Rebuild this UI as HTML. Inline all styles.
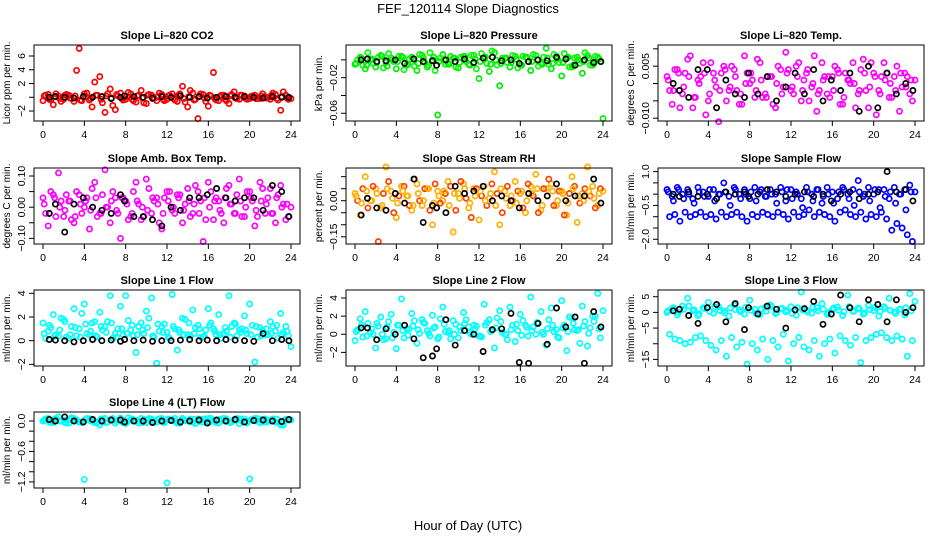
<!DOCTYPE html>
<html><head><meta charset="utf-8"><style>
html,body{margin:0;padding:0;background:#fff;}
svg{display:block;font-family:"Liberation Sans",sans-serif;}
</style></head><body>
<svg id="chart" width="936" height="540" viewBox="0 0 936 540" xmlns="http://www.w3.org/2000/svg">
<rect x="0" y="0" width="936" height="540" fill="#fff"/>
<text x="468" y="13" text-anchor="middle" font-size="13">FEF_120114  Slope Diagnostics</text>
<text x="468" y="530" text-anchor="middle" font-size="13">Hour of Day (UTC)</text>
</svg>
<script>
const hoursA=[0,0.5,1,1.5,2,2.5,3,3.5,4,4.5,5,5.5,6,6.5,7,7.5,8,8.5,9,9.5,10,10.5,11,11.5,12,12.5,13,13.5,14,14.5,15,15.5,16,16.5,17,17.5,18,18.5,19,19.5,20,20.5,21,21.5,22,22.5,23,23.5,24];
const hoursB=[0.25,0.75,1.25,1.75,2.25,2.75,3.25,3.75,4.25,4.75,5.25,5.75,6.25,6.75,7.25,7.75,8.25,8.75,9.25,9.75,10.25,10.75,11.25,11.75,12.25,12.75,13.25,13.75,14.25,14.75,15.25,15.75,16.25,16.75,17.25,17.75,18.25,18.75,19.25,19.75,20.25,20.75,21.25,21.75,22.25,22.75,23.25,23.75];
const hoursC=[0.12,0.62,1.12,1.62,2.12,2.62,3.12,3.62,4.12,4.62,5.12,5.62,6.12,6.62,7.12,7.62,8.12,8.62,9.12,9.62,10.12,10.62,11.12,11.62,12.12,12.62,13.12,13.62,14.12,14.62,15.12,15.62,16.12,16.62,17.12,17.62,18.12,18.62,19.12,19.62,20.12,20.62,21.12,21.62,22.12,22.62,23.12,23.62];
const blackHours=[0.6,1.2,2.1,3.0,3.9,4.8,5.7,6.6,7.5,7.9,8.8,9.7,10.6,11.5,12.4,13.3,14.2,15.1,15.9,16.8,17.7,18.6,19.5,20.4,21.3,22.2,23.1,23.8];
const xTicks=[0,4,8,12,16,20,24];

const co2A=[-0.5,0.4,-1.1,0.2,-0.3,0.3,-0.6,7.1,0.5,-0.4,2.2,3.0,-2.2,1.2,-1.8,0.6,-0.3,0.5,-0.7,1.0,-0.9,0.3,-0.5,0.4,-0.3,0.5,-0.6,1.6,-1.4,0.6,-3.1,0.4,-1.3,3.6,-0.5,0.3,-0.9,0.8,-0.3,0.2,-0.2,0.3,-0.2,0.1,-0.3,0.4,-1.9,0.3,-0.2];
const co2B=[0.3,-0.4,0.5,-0.6,0.4,-0.2,3.9,-0.5,0.6,-1.4,0.3,-0.8,0.5,-1.2,0.2,-0.4,0.7,-0.5,0.3,-0.8,0.4,-0.2,0.6,-0.5,0.3,-0.4,0.5,-0.7,1.0,-0.3,0.5,-0.6,0.2,-0.4,0.3,-0.5,0.4,-0.2,0.3,-0.3,0.2,-0.2,0.5,-0.1,0.6,-0.4,0.8,-0.3];
const co2C=[0.2,-0.3,0.1,-0.2,0.3,-0.1,0.2,-0.4,0.1,-0.2,0.3,-0.3,0.2,-0.1,0.4,-0.2,0.1,-0.3,0.2,-0.1,0.3,-0.2,0.1,-0.3,0.2,-0.1,0.3,-0.2,0.1,-0.4,0.2,-0.1,0.3,-0.2,0.1,-0.3,0.2,-0.1,0.3,-0.2,0.1,-0.2,0.2,-0.1,0.3,-0.2,0.1,-0.1];
const co2K=[0,0.1,0,-0.1,0.1,0,0.1,-0.2,0,0.2,0.1,0,-0.1,0.1,0,0.2,0,0.1,-0.1,0,0.1,0,0.1,0,-0.1,0.1,0,0];

const presA=[-0.005,0.003,-0.01,0.0,-0.008,0.005,-0.003,0.002,-0.01,0.004,-0.006,0.003,-0.012,0.005,-0.008,0.0,-0.062,0.006,-0.004,0.002,-0.009,0.004,-0.005,0.005,-0.021,0.003,-0.013,0.008,-0.029,0.002,-0.008,0.004,-0.006,0.003,-0.012,0.005,-0.004,0.013,-0.01,0.004,-0.018,0.002,-0.008,0.003,-0.015,0.005,-0.006,0.003,-0.066];
const presB=[0.0,-0.006,0.008,-0.004,0.003,-0.009,0.007,-0.002,0.004,-0.011,0.001,-0.007,0.006,-0.003,0.008,-0.012,0.002,-0.005,0.004,-0.008,0.003,-0.002,0.005,-0.01,0.007,-0.004,0.01,-0.006,0.002,-0.003,0.005,-0.009,0.004,-0.002,0.006,-0.007,0.003,-0.005,0.006,-0.003,0.007,-0.008,0.002,-0.004,0.008,-0.006,0.004,-0.002];
const presC=[-0.004,0.002,-0.006,0.001,-0.003,0.004,-0.007,0.0,-0.002,0.003,-0.005,0.001,-0.004,0.002,-0.006,0.003,-0.002,0.0,-0.005,0.002,-0.003,0.004,-0.006,0.001,-0.002,0.003,-0.005,0.0,-0.004,0.002,-0.003,0.001,-0.006,0.003,-0.002,0.0,-0.005,0.002,-0.004,0.001,-0.003,0.003,-0.006,0.0,-0.002,0.002,-0.004,0.001];
const presK=[0.0,0.001,-0.002,-0.001,0.0,-0.004,0.001,-0.002,-0.001,-0.006,0.0,-0.002,0.001,-0.003,0.002,0.003,-0.001,0.0,-0.004,-0.002,0.0,-0.001,0.003,0.001,-0.006,0.0,-0.003,-0.002];

const tempA=[0.002,-0.006,0.004,-0.003,0.007,-0.007,0.001,0.006,-0.005,0.003,-0.011,0.005,-0.002,0.004,-0.006,0.008,0.0,-0.004,0.006,-0.003,0.002,-0.007,0.004,0.009,-0.002,0.005,-0.005,0.003,-0.001,-0.008,0.006,-0.003,0.002,0.004,-0.006,0.001,0.006,-0.003,0.007,-0.007,0.003,-0.002,0.006,-0.004,0.002,-0.008,0.003,-0.003,0.001];
const tempB=[-0.002,0.004,-0.007,0.003,0.008,-0.004,0.002,-0.009,0.006,-0.001,0.003,-0.005,0.005,-0.002,-0.006,0.003,0.001,0.007,-0.004,0.002,-0.006,0.005,-0.001,0.004,-0.003,0.006,0.001,-0.005,0.008,-0.002,0.002,-0.004,0.005,-0.006,0.003,0.0,-0.007,0.004,-0.002,0.006,-0.009,0.002,0.003,-0.004,0.005,-0.001,0.002,-0.005];
const tempC=[0.001,-0.002,0.003,-0.001,0.002,-0.004,0.0,0.003,-0.003,0.001,-0.002,0.004,-0.001,0.002,-0.003,0.0,0.003,-0.002,0.001,-0.004,0.002,0.0,-0.003,0.003,-0.001,0.002,-0.002,0.004,0.0,-0.003,0.001,0.002,-0.002,0.003,-0.004,0.001,0.0,-0.002,0.003,-0.001,0.002,-0.003,0.001,0.0,-0.002,0.003,-0.001,0.001];
const tempK=[0.0,-0.002,-0.004,0.004,0.004,-0.007,0.001,-0.003,-0.004,0.003,-0.003,0.002,-0.005,-0.001,0.003,-0.003,0.004,-0.005,0.001,-0.002,0.003,-0.008,0.005,-0.007,0.003,-0.003,0.0,-0.002];

const ambA=[0.03,-0.06,0.04,0.11,-0.03,0.02,-0.05,0.04,0.0,-0.07,0.08,-0.02,0.12,-0.05,0.03,-0.1,0.02,-0.03,0.08,-0.04,0.09,-0.02,0.03,-0.07,0.05,-0.01,0.04,-0.05,0.06,-0.02,0.05,-0.11,0.08,-0.04,0.02,-0.05,0.07,-0.02,0.09,-0.03,0.05,-0.06,0.08,-0.02,0.06,-0.05,0.07,-0.04,0.0];
const ambB=[-0.02,0.05,-0.03,0.02,0.04,-0.04,0.05,-0.02,0.03,0.06,-0.03,0.04,0.0,0.05,-0.02,0.03,-0.04,0.05,0.01,-0.03,0.06,0.02,-0.05,0.03,0.05,-0.02,0.04,0.01,-0.03,0.07,0.02,-0.04,0.05,0.03,-0.02,0.06,0.01,0.04,-0.03,0.05,0.02,-0.03,0.06,0.03,-0.02,0.04,0.01,-0.03];
const ambC=[0.01,-0.02,0.03,0.0,-0.01,0.02,-0.03,0.01,0.02,-0.01,0.03,-0.02,0.0,0.02,-0.01,0.03,0.01,-0.02,0.02,0.0,-0.01,0.03,0.01,-0.02,0.02,0.0,0.03,-0.01,0.02,0.01,-0.02,0.03,0.0,0.02,-0.01,0.03,0.01,-0.02,0.02,0.0,0.03,-0.01,0.02,0.01,-0.02,0.03,0.0,0.01];
const ambK=[-0.02,0.01,-0.08,0.01,0.03,0.0,-0.01,-0.02,0.04,0.02,-0.03,-0.03,-0.04,-0.06,0.0,-0.01,0.03,0.03,0.04,0.06,0.03,0.02,0.03,0.03,-0.01,0.07,0.05,-0.03];

const rhA=[0.03,-0.06,0.1,0.0,0.05,-0.03,0.14,0.04,-0.07,0.06,0.02,-0.04,0.07,-0.02,0.05,-0.1,0.04,0.0,0.08,-0.13,0.03,0.07,-0.03,0.05,-0.08,0.06,0.01,0.12,-0.1,0.04,-0.02,0.08,0.03,-0.05,0.06,0.11,-0.04,0.05,0.07,-0.02,0.04,-0.06,0.1,-0.09,0.03,0.14,0.06,-0.02,0.04];
const rhB=[0.0,0.05,-0.03,0.06,-0.17,0.03,0.08,-0.05,0.02,0.06,-0.02,0.09,0.0,0.05,-0.04,0.07,-0.01,0.03,0.06,-0.04,0.08,0.01,-0.07,0.05,0.02,-0.02,0.07,0.03,-0.05,0.06,0.0,0.04,-0.03,0.07,0.02,-0.05,0.05,0.09,-0.02,0.04,-0.06,0.03,0.06,-0.01,0.05,0.02,-0.03,0.05];
const rhC=[0.02,-0.01,0.04,0.0,0.03,-0.02,0.05,0.01,-0.01,0.04,0.02,-0.02,0.03,0.0,0.05,-0.01,0.02,0.04,-0.02,0.03,0.01,0.05,-0.01,0.02,0.04,0.0,0.03,-0.02,0.05,0.01,0.02,-0.01,0.04,0.0,0.03,0.05,-0.02,0.02,0.04,0.0,0.03,-0.01,0.05,0.02,0.0,0.04,0.01,0.03];
const rhK=[-0.06,0.01,-0.03,-0.04,0.03,-0.01,0.09,-0.09,-0.02,-0.03,-0.05,0.06,0.03,0.04,0.06,0.0,0.02,0.0,-0.03,0.03,0.0,0.02,0.07,0.0,0.02,0.02,0.09,-0.01];

const sfA=[0.2,-0.1,0.3,0.0,0.2,-0.2,0.3,0.1,-0.1,0.2,0.0,0.5,-0.1,0.3,0.0,0.2,-0.2,0.3,0.1,-0.1,0.2,0.0,0.3,-0.3,0.2,0.1,-0.2,0.3,0.0,0.2,-0.4,0.3,0.1,-0.2,0.3,0.0,0.2,0.6,-0.1,0.3,0.0,0.2,0.2,-0.2,0.3,0.0,0.2,0.4,0.1];
const sfB=[-1.0,-0.9,-1.2,-0.8,-1.0,-0.9,-0.8,-1.0,-0.9,-1.1,-0.8,-1.0,-0.9,-0.8,-1.0,-1.2,-0.9,-1.0,-0.8,-0.9,-1.0,-0.8,-0.9,-1.1,-0.8,-1.0,-0.9,-0.7,-1.0,-0.8,-0.9,-1.0,-1.2,-0.8,-0.7,-0.9,-1.0,-0.8,-1.1,-0.9,-1.0,-0.8,-1.1,-1.6,-1.3,-1.5,-1.8,-2.1];
const sfC=[0.1,-0.3,0.2,-0.2,0.0,-0.4,0.1,-0.1,0.2,-0.3,0.0,0.1,-0.5,0.2,-0.2,0.0,0.1,-0.3,0.2,-0.1,0.0,-0.4,0.1,0.2,-0.2,0.0,-0.6,0.1,-0.3,0.2,-0.1,0.0,-0.4,0.1,0.2,-0.2,-0.5,0.1,0.0,-0.3,0.2,-0.6,-0.1,0.1,-0.4,0.0,-0.7,0.1];
const sfK=[0.0,-0.1,0.1,-0.1,0.0,-0.2,0.1,0.0,0.1,-0.1,0.0,0.2,0.1,-0.1,0.0,0.1,-0.1,0.0,-0.3,0.0,0.1,-0.2,0.0,0.1,1.0,0.1,0.2,-0.3];

const l1A=[1.5,0.8,2.2,0.4,1.8,0.2,2.7,1.0,3.1,0.5,1.6,2.4,1.2,3.8,0.6,2.9,3.8,0.9,-1.0,1.5,2.5,3.6,-1.9,1.2,0.7,3.9,-0.8,1.9,0.5,2.6,1.3,0.3,2.7,1.0,2.2,0.6,3.8,1.5,0.9,2.1,3.1,-1.8,1.1,0.5,1.6,0.8,2.3,1.2,-0.5];
const l1B=[0.2,1.1,0.5,1.9,0.3,1.2,0.4,2.3,0.6,1.5,0.3,0.9,1.6,0.2,1.0,0.5,1.7,0.4,1.2,0.6,1.9,0.3,0.8,1.4,0.2,1.0,0.7,1.8,0.4,1.1,0.3,0.9,1.5,0.5,0.2,0.8,1.2,0.4,1.0,0.6,1.3,0.3,0.9,0.5,1.2,0.2,0.7,0.4];
const l1C=[0.6,1.3,0.4,0.9,1.6,0.5,1.1,0.3,1.4,0.8,0.4,1.2,0.7,1.5,0.3,1.0,0.6,1.3,0.5,0.9,1.1,0.4,1.4,0.7,0.3,1.2,0.9,0.5,1.5,0.6,1.0,0.4,1.3,0.8,0.5,1.1,0.3,1.4,0.7,0.9,0.5,1.2,0.4,1.0,0.6,1.3,0.5,0.8];
const l1K=[0.1,0.05,0.0,-0.1,0.0,0.1,0.0,0.05,-0.05,0.1,0.0,0.05,-0.05,0.0,0.0,0.05,0.1,0.0,0.05,0.0,0.1,0.05,0.0,-0.05,0.6,0.0,0.1,0.0];

const l2A=[-0.7,1.7,2.5,0.2,-1.5,1.9,-0.5,2.2,-1.6,3.9,0.6,2.3,-1.0,1.6,0.4,2.1,-0.5,3.0,0.2,1.5,-0.4,2.4,0.8,1.0,-0.2,3.3,1.6,-1.5,2.6,0.0,3.0,-0.8,2.2,1.0,4.1,0.0,2.5,-1.2,2.9,0.5,3.7,-1.8,1.8,0.4,3.1,-1.3,2.0,4.5,2.6];
const l2B=[0.5,-0.3,1.2,0.0,0.9,-0.6,1.4,0.2,1.0,-0.4,0.6,1.5,0.1,1.2,-0.2,0.8,1.7,0.3,-0.5,1.1,0.4,1.6,0.0,0.9,-0.3,1.3,0.5,1.8,0.2,-0.6,1.0,0.4,1.5,-0.2,0.8,1.2,0.0,1.6,0.3,-0.4,1.0,1.9,0.5,-1.0,1.4,0.7,2.0,-0.4];
const l2C=[0.3,1.0,-0.2,0.6,1.2,0.0,0.8,-0.4,1.0,0.4,-0.1,0.9,0.5,1.3,0.1,0.7,-0.3,1.1,0.4,0.0,0.8,1.2,0.2,0.6,-0.2,1.0,0.3,0.7,1.4,0.0,0.5,1.1,-0.1,0.8,0.4,1.3,0.2,0.6,1.0,-0.3,0.7,0.3,1.2,0.5,0.9,0.1,1.4,0.6];
const l2K=[0.7,0.7,-0.6,0.6,0.0,1.0,-0.5,-2.6,-2.4,-1.6,1.6,-1.2,0.4,0.0,-1.9,0.5,0.6,2.3,-3.1,-3.2,1.2,-1.1,2.9,0.8,1.9,-3.2,2.5,0.8];

const l3A=[0.0,1.2,-0.8,2.0,4.5,0.5,-1.0,1.5,3.2,-0.3,1.8,0.5,-1.2,2.3,0.8,-0.5,3.9,1.0,-0.7,1.6,2.4,-0.4,1.1,0.2,1.8,-0.9,6.5,0.7,-0.2,1.5,2.8,-0.6,0.9,1.7,-1.0,5.5,0.3,1.4,-0.5,2.1,0.6,-1.2,1.8,4.5,0.2,1.0,-0.8,6.0,3.5];
const l3B=[-7,-8.5,-9,-10,-9.5,-8,-7.5,-9,-10.5,-12,-9,-14,-8,-11,-9.5,-16.5,-10,-12,-8.5,-15,-9,-11,-7,-15.5,-10,-8,-11,-12,-9,-14,-10,-8.5,-13,-7.5,-9,-10.5,-8,-16,-9,-8,-7,-6.5,-8,-9,-7.5,-8.5,-14,-9];
const l3C=[0.5,1.5,0.0,1.0,2.0,0.8,-0.5,1.2,0.3,1.8,0.6,-0.2,1.4,0.9,0.2,1.6,0.7,-0.4,1.1,0.4,1.9,0.0,1.3,0.6,-0.3,1.5,0.8,0.1,1.7,0.5,1.0,-0.1,1.4,0.7,0.2,1.8,0.4,1.1,-0.2,0.9,1.6,0.3,1.2,0.6,-0.3,1.0,1.5,0.5];
const l3K=[0.5,1.0,-1,-3.5,1.5,2.5,-3,2.8,-5.5,1.5,-0.5,2.0,1.0,-5.0,0.8,1.2,3.5,-3.8,-0.5,5.5,1.5,-3,4.0,2.5,-3.0,4.0,0.0,1.5];

const l4A=[0.0,0.05,-0.03,0.08,0.02,-0.04,0.05,-0.02,-1.15,0.04,-0.03,-0.08,0.05,0.02,-0.04,0.06,-0.05,0.03,0.0,0.05,-0.03,0.04,-0.02,0.05,-1.22,0.03,-0.04,0.05,0.0,-0.03,0.04,-0.02,0.05,0.0,-0.04,0.05,-0.02,0.03,-0.05,0.04,-1.14,0.05,-0.03,0.04,0.0,-0.02,-0.08,0.03,0.02];
const l4B=[0.04,-0.03,0.05,0.0,-0.04,0.06,0.02,-0.03,0.05,0.0,-0.04,0.04,-0.02,0.05,0.01,-0.03,0.06,0.0,-0.04,0.03,0.05,-0.02,0.04,-0.03,0.02,0.05,-0.04,0.01,0.04,-0.05,0.03,0.0,0.05,-0.03,0.02,0.04,-0.02,0.05,0.0,-0.04,0.03,0.05,-0.02,0.01,0.04,-0.03,-0.08,0.02];
const l4C=[0.02,-0.02,0.04,0.0,-0.03,0.03,0.01,-0.02,0.03,0.0,-0.01,0.04,-0.03,0.02,0.0,0.03,-0.02,0.04,0.01,-0.03,0.02,0.0,0.03,-0.02,0.04,0.01,-0.03,0.02,0.0,0.03,-0.01,0.04,-0.02,0.01,0.03,0.0,-0.03,0.02,0.04,-0.01,0.02,0.0,0.03,-0.02,0.01,0.04,-0.03,0.02];
const l4K=[0.03,0.0,0.08,0.0,-0.02,0.03,0.0,0.02,0.02,-0.02,0.0,0.0,-0.03,0.0,0.01,-0.02,0.0,0.02,-0.04,0.02,0.0,0.03,-0.02,0.01,0.02,0.0,-0.01,0.03];

const co2Ticks=[-2,0,2,4,6], co2Labels=["\u22122","","2","4","6"];
const presTicks=[0,-0.02,-0.04,-0.06], presLabels=["","\u22120.02","","\u22120.06"];
const tempTicks=[0.01,0.005,0,-0.005,-0.01], tempLabels=["","0.005","","","\u22120.010"];
const ambTicks=[0.1,0.05,0,-0.05,-0.1], ambLabels=["0.10","","0.00","","\u22120.10"];
const rhTicks=[0.1,0.05,0,-0.05,-0.1,-0.15], rhLabels=["","","0.00","","","\u22120.15"];
const sfTicks=[1,0.5,0,-0.5,-1,-1.5,-2], sfLabels=["1.0","","","\u22120.5","","","\u22122.0"];
const l1Ticks=[4,2,0,-2], l1Labels=["4","2","0","\u22122"];
const l2Ticks=[4,2,0,-2], l2Labels=["4","2","0","\u22122"];
const l3Ticks=[5,0,-5,-10,-15], l3Labels=["5","0","\u22125","","\u221215"];
const l4Ticks=[0,-0.2,-0.4,-0.6,-0.8,-1.0,-1.2], l4Labels=["0.0","","","\u22120.6","","","\u22121.2"];

const NS="http://www.w3.org/2000/svg";
const svg=document.getElementById('chart');
function mk(tag,attrs,parent){const e=document.createElementNS(NS,tag);for(const k in attrs)e.setAttribute(k,attrs[k]);(parent||svg).appendChild(e);return e;}

const cols=[[34,300],[346,612],[658,924]];
const rows=[[45,121],[168,244],[290,366],[412,488]];
const panels=[
 {key:'co2',title:'Slope Li\u2013820 CO2',ylab:'Licor ppm per min.',c:0,r:0,dom:[-3.45,7.6],ticks:co2Ticks,labels:co2Labels,A:co2A,B:co2B,C:co2C,K:co2K,colA:'#ff0000',colB:'#ff0000'},
 {key:'pressure',title:'Slope Li\u2013820 Pressure',ylab:'kPa per min.',c:1,r:0,dom:[-0.0687,0.0167],ticks:presTicks,labels:presLabels,A:presA,B:presB,C:presC,K:presK,colA:'#00ee00',colB:'#00ff00'},
 {key:'temp',title:'Slope Li\u2013820 Temp.',ylab:'degrees C per min.',c:2,r:0,dom:[-0.0108,0.0111],ticks:tempTicks,labels:tempLabels,A:tempA,B:tempB,C:tempC,K:tempK,colA:'#ff00ff',colB:'#ff00ff'},
 {key:'ambtemp',title:'Slope Amb. Box Temp.',ylab:'degrees C per min.',c:0,r:1,dom:[-0.118,0.1257],ticks:ambTicks,labels:ambLabels,A:ambA,B:ambB,C:ambC,K:ambK,colA:'#ff00ff',colB:'#ff00ff'},
 {key:'rh',title:'Slope Gas Stream RH',ylab:'percent per min.',c:1,r:1,dom:[-0.18,0.136],ticks:rhTicks,labels:rhLabels,A:rhA,B:rhB,C:rhC,K:rhK,colA:'#ffb000',colB:'#ff4000'},
 {key:'sampleflow',title:'Slope Sample Flow',ylab:'ml/min per min.',c:2,r:1,dom:[-2.21,1.16],ticks:sfTicks,labels:sfLabels,A:sfA,B:sfB,C:sfC,K:sfK,colA:'#0000ff',colB:'#0000ff'},
 {key:'line1',title:'Slope Line 1 Flow',ylab:'ml/min per min.',c:0,r:2,dom:[-2.14,4.28],ticks:l1Ticks,labels:l1Labels,A:l1A,B:l1B,C:l1C,K:l1K,colA:'#00ffff',colB:'#00ffff'},
 {key:'line2',title:'Slope Line 2 Flow',ylab:'ml/min per min.',c:1,r:2,dom:[-3.5,4.88],ticks:l2Ticks,labels:l2Labels,A:l2A,B:l2B,C:l2C,K:l2K,colA:'#00ffff',colB:'#00ffff'},
 {key:'line3',title:'Slope Line 3 Flow',ylab:'ml/min per min.',c:2,r:2,dom:[-17.1,7.14],ticks:l3Ticks,labels:l3Labels,A:l3A,B:l3B,C:l3C,K:l3K,colA:'#00ffff',colB:'#00ffff'},
 {key:'line4',title:'Slope Line 4 (LT) Flow',ylab:'ml/min per min.',c:0,r:3,dom:[-1.32,0.177],ticks:l4Ticks,labels:l4Labels,A:l4A,B:l4B,C:l4C,K:l4K,colA:'#00ffff',colB:'#00ffff'}
];

panels.forEach(p=>{
 const [x0,x1]=cols[p.c],[y0,y1]=rows[p.r];
 const g=mk('g',{});
 
 
 const xs=v=>x0+9+(v/24)*(x1-x0-18);
 const ys=v=>y1-(v-p.dom[0])/(p.dom[1]-p.dom[0])*(y1-y0);
 function pts(hs,vs,col,name){
  const sg=mk('g',{fill:'none',stroke:col,'stroke-width':1.7},g);
  
  
  vs.forEach((v,i)=>{const c=mk('circle',{cx:xs(hs[i]).toFixed(1),cy:ys(v).toFixed(1),r:2.6},sg);
   
   });
 }
 pts(hoursA,p.A,p.colA,'series-main-a');
 pts(hoursB,p.B,p.colB,'series-main-b');
 pts(hoursC,p.C,p.colA,'series-main-c');
 pts(blackHours,p.K,'#000','series-black');
 const box=mk('rect',{x:x0,y:y0,width:x1-x0,height:y1-y0,fill:'none',stroke:'#000','stroke-width':1},g);
 
 
 const t=mk('text',{x:(x0+x1)/2,y:y0-6,'text-anchor':'middle','font-size':11,'font-weight':'bold'},g);
 t.textContent=p.title;
 
 
 const xa=mk('g',{},g);
 
 
 mk('line',{x1:xs(0),x2:xs(24),y1:y1,y2:y1,stroke:'#000'},xa);
 xTicks.forEach(v=>{mk('line',{x1:xs(v),x2:xs(v),y1:y1,y2:y1+5,stroke:'#000'},xa);
  const l=mk('text',{x:xs(v),y:y1+17,'text-anchor':'middle','font-size':10.5},xa);l.textContent=v;
  
  });
 const ya=mk('g',{},g);
 
 
 const tv=p.ticks;
 mk('line',{x1:x0,x2:x0,y1:ys(Math.min(...tv)),y2:ys(Math.max(...tv)),stroke:'#000'},ya);
 tv.forEach((v,i)=>{mk('line',{x1:x0-5,x2:x0,y1:ys(v),y2:ys(v),stroke:'#000'},ya);
  if(p.labels[i]){const yy=ys(v);const l=mk('text',{x:x0-9,y:yy,'text-anchor':'middle','font-size':10.5,transform:`rotate(-90 ${x0-9} ${yy})`},ya);l.textContent=p.labels[i];
  
  }});
 const cy=(y0+y1)/2;
 const yl=mk('text',{x:x0-24,y:cy,'text-anchor':'middle','font-size':10,transform:`rotate(-90 ${x0-24} ${cy})`},g);
 yl.textContent=p.ylab;
 
 
});
</script>
</body></html>
